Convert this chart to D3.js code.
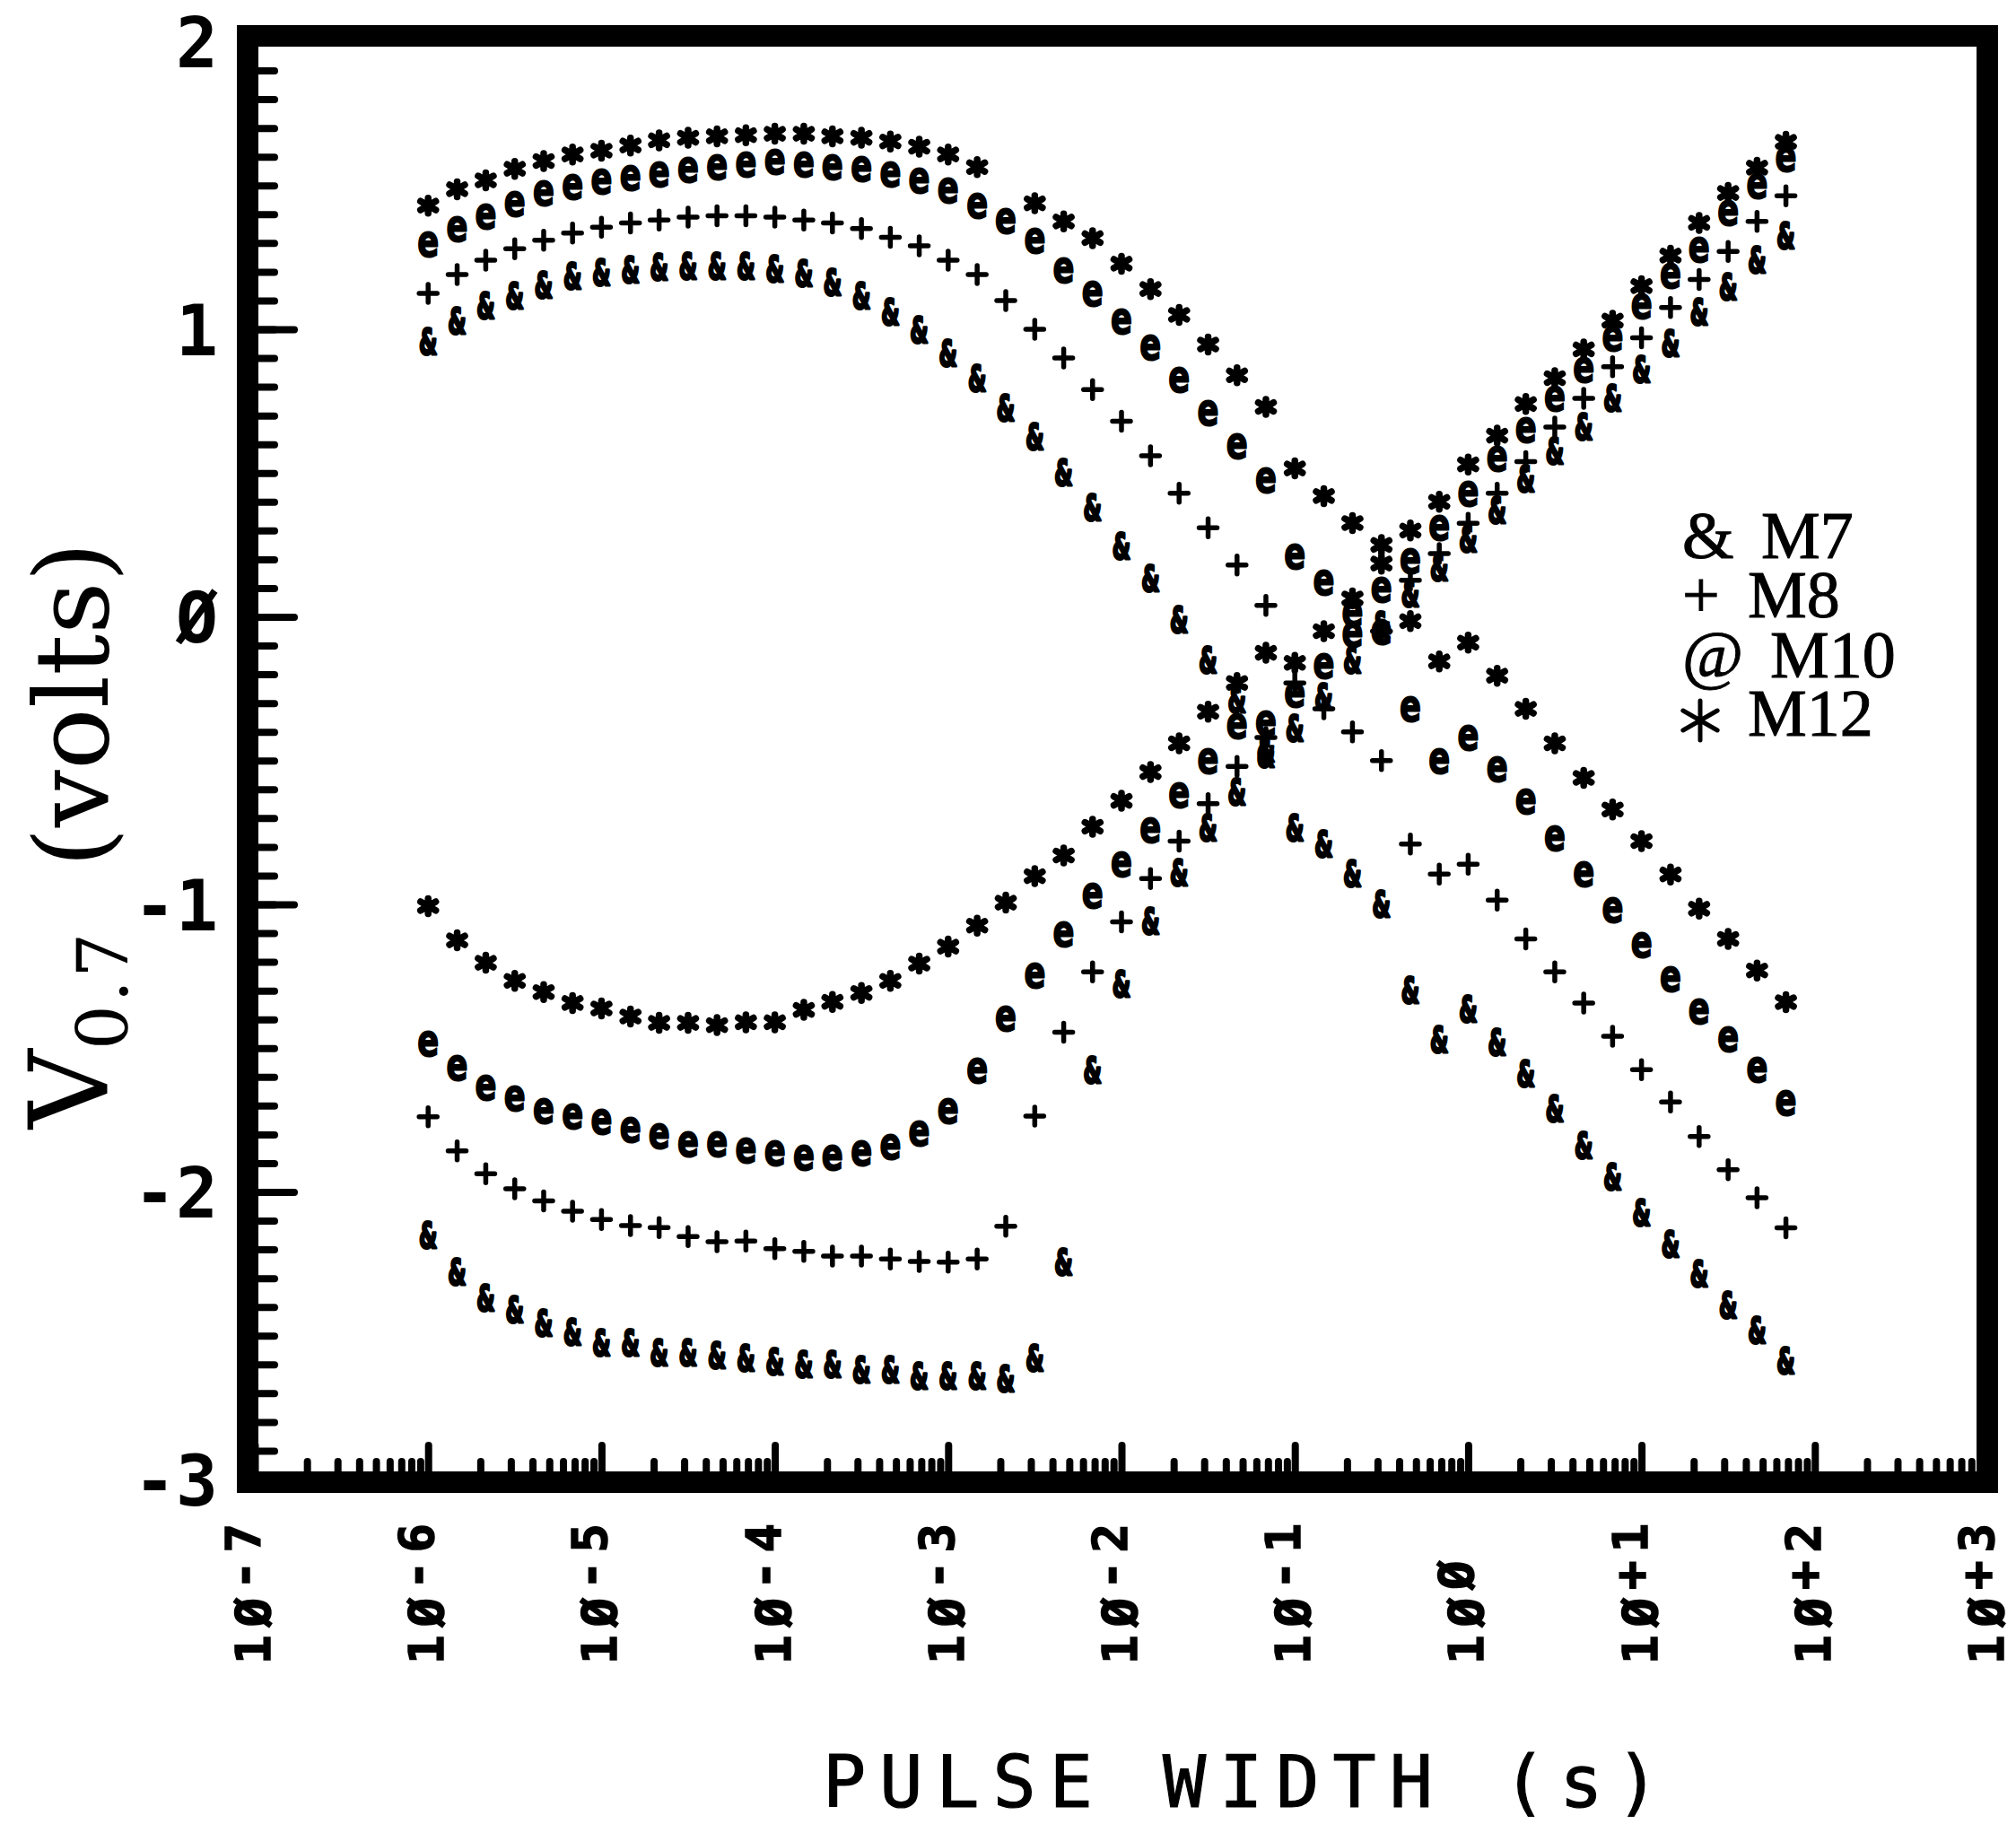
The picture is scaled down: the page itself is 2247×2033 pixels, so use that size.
<!DOCTYPE html>
<html>
<head>
<meta charset="utf-8">
<script src="https://cdn.jsdelivr.net/npm/d3@7"></script>
<style>
  html, body { margin: 0; padding: 0; background: #fff; }
  svg { display: block; }
</style>
</head>
<body>
<svg id="chart" width="2247" height="2033"></svg>
<script>
// Pulse widths (s): six steps per decade, from 1 µs to 68 s
const pulseWidths = [
  1e-6, 1.47e-6, 2.15e-6, 3.16e-6, 4.64e-6, 6.81e-6,
  1e-5, 1.47e-5, 2.15e-5, 3.16e-5, 4.64e-5, 6.81e-5,
  1e-4, 1.47e-4, 2.15e-4, 3.16e-4, 4.64e-4, 6.81e-4,
  1e-3, 1.47e-3, 2.15e-3, 3.16e-3, 4.64e-3, 6.81e-3,
  1e-2, 1.47e-2, 2.15e-2, 3.16e-2, 4.64e-2, 6.81e-2,
  0.1, 0.147, 0.215, 0.316, 0.464, 0.681,
  1, 1.47, 2.15, 3.16, 4.64, 6.81,
  10, 14.7, 21.5, 31.6, 46.4, 68.1
];

// V0.7 (volts) per device. "Down" = branch starting positive, "Up" = branch starting negative.
const m7Down = [
  0.955, 1.027, 1.08, 1.117, 1.152, 1.183, 1.196, 1.206, 1.215, 1.219,
  1.219, 1.219, 1.21, 1.192, 1.161, 1.117, 1.059, 0.996, 0.916, 0.827,
  0.724, 0.625, 0.50, 0.38, 0.245, 0.133, -0.01, -0.15, -0.29, -0.46,
  -0.735, -0.79, -0.895, -1.0, -1.30, -1.47, -1.365, -1.48, -1.59, -1.71,
  -1.84, -1.95, -2.072, -2.182, -2.285, -2.395, -2.483, -2.587
];
const m7Up = [
  -2.150, -2.280, -2.369, -2.410, -2.457, -2.488, -2.525, -2.525, -2.561, -2.561,
  -2.57, -2.58, -2.59, -2.60, -2.60, -2.62, -2.62, -2.64, -2.64, -2.64,
  -2.65, -2.58, -2.244, -1.578, -1.277, -1.058, -0.892, -0.735, -0.61, -0.48,
  -0.39, -0.28, -0.15, -0.03, 0.08, 0.17, 0.27, 0.37, 0.48, 0.575,
  0.66, 0.76, 0.86, 0.95, 1.06, 1.147, 1.24, 1.325
];
const m8Down = [
  1.125, 1.19, 1.24, 1.28, 1.31, 1.335, 1.355, 1.37, 1.38, 1.39,
  1.395, 1.395, 1.39, 1.38, 1.37, 1.35, 1.32, 1.29, 1.24, 1.19,
  1.10, 1.00, 0.90, 0.79, 0.68, 0.56, 0.43, 0.31, 0.18, 0.04,
  -0.23, -0.32, -0.40, -0.50, -0.79, -0.895, -0.86, -0.985, -1.12, -1.235,
  -1.343, -1.459, -1.575, -1.687, -1.807, -1.923, -2.02, -2.125
];
const m8Up = [
  -1.739, -1.857, -1.937, -1.989, -2.031, -2.067, -2.096, -2.117, -2.124, -2.155,
  -2.173, -2.171, -2.197, -2.207, -2.223, -2.223, -2.233, -2.242, -2.244, -2.233,
  -2.119, -1.736, -1.445, -1.235, -1.061, -0.91, -0.78, -0.65, -0.52, -0.42,
  null, null, null, -0.05, 0.127, 0.22, 0.325, 0.43, 0.54, 0.66,
  0.76, 0.87, 0.97, 1.076, 1.173, 1.271, 1.375, 1.464
];
const m10Down = [
  1.295, 1.349, 1.394, 1.438, 1.474, 1.497, 1.515, 1.528, 1.541, 1.555,
  1.564, 1.573, 1.582, 1.573, 1.564, 1.559, 1.541, 1.519, 1.483, 1.43,
  1.376, 1.309, 1.206, 1.125, 1.027, 0.938, 0.826, 0.71, 0.595, 0.476,
  0.21, 0.12, 0.01, -0.05, -0.32, -0.50, -0.42, -0.53, -0.64, -0.77,
  -0.895, -1.02, -1.14, -1.26, -1.37, -1.467, -1.575, -1.69
];
const m10Up = [
  -1.485, -1.568, -1.637, -1.675, -1.717, -1.736, -1.755, -1.783, -1.805, -1.833,
  -1.833, -1.854, -1.864, -1.88, -1.88, -1.864, -1.842, -1.797, -1.719, -1.578,
  -1.396, -1.246, -1.103, -0.97, -0.86, -0.74, -0.62, -0.50, -0.38, -0.37,
  -0.27, -0.17, -0.06, 0.095, 0.195, 0.31, 0.43, 0.55, 0.65, 0.76,
  0.86, 0.97, 1.08, 1.187, 1.278, 1.406, 1.50, 1.593
];
const m12Down = [
  1.43, 1.487, 1.518, 1.558, 1.585, 1.608, 1.621, 1.639, 1.657, 1.666,
  1.671, 1.675, 1.68, 1.68, 1.671, 1.666, 1.653, 1.635, 1.608, 1.564,
  null, 1.438, 1.375, 1.317, 1.228, 1.14, 1.05, 0.947, 0.84, 0.73,
  0.516, 0.42, 0.326, 0.185, -0.015, -0.155, -0.09, -0.205, -0.32, -0.44,
  -0.56, -0.67, -0.78, -0.896, -1.015, -1.12, -1.23, -1.34
];
const m12Up = [
  -1.006, -1.125, -1.203, -1.266, -1.305, -1.343, -1.362, -1.39, -1.412, -1.412,
  -1.42, -1.41, -1.41, -1.367, -1.339, -1.308, -1.266, -1.206, -1.147, -1.074,
  -0.994, -0.902, -0.83, -0.73, -0.64, -0.54, -0.44, -0.33, -0.23, -0.125,
  -0.16, -0.05, 0.064, 0.25, 0.30, 0.40, 0.53, 0.63, 0.74, 0.83,
  0.93, 1.03, 1.15, 1.256, 1.37, 1.474, 1.562, 1.652
];

const deviceNames = ["M7", "M8", "M10", "M12"];
const legendSymbols = ["&", "+", "@", "*"];

// Axis ticks and labels
const yTickValues = [-3, -2, -1, 0, 1, 2];
const yTickLabels = ["-3", "-2", "-1", "\u00D8", "1", "2"];
const xDecades = [1e-7, 1e-6, 1e-5, 1e-4, 1e-3, 1e-2, 1e-1, 1, 1e1, 1e2, 1e3];
const xExponents = ["-7", "-6", "-5", "-4", "-3", "-2", "-1", "\u00D8", "+1", "+2", "+3"];

// ---------------------------------------------------------------------------
const svg = d3.select("#chart");
const ink = "#000";
const plotterFont = "'DejaVu Sans Mono', monospace";
const legendFont = "'Liberation Serif', 'DejaVu Serif', serif";
const titleFont = "'DejaVu Serif', serif";

const x = d3.scaleLog().domain([1e-7, 1e3]).range([284, 2216]);
const y = d3.scaleLinear().domain([-3, 2]).range([1649, 46.5]);

const frame = { left: 276, right: 2215, top: 40, bottom: 1652, stroke: 24 };

function styleTicks(g) {
  g.select(".domain").remove();
  g.selectAll(".tick line")
    .attr("stroke", ink)
    .attr("stroke-width", 8)
    .attr("stroke-linecap", "round");
}

// Inward ticks on the left edge: every 0.1 V, longer at whole volts
const yMinor = d3.range(-30, 21).map(k => k / 10);
svg.append("g")
  .attr("transform", `translate(${frame.left},0)`)
  .call(d3.axisRight(y).tickValues(yMinor).tickSize(30).tickFormat(""))
  .call(styleTicks);
svg.append("g")
  .attr("transform", `translate(${frame.left},0)`)
  .call(d3.axisRight(y).tickValues(yTickValues).tickSize(52).tickFormat(""))
  .call(styleTicks);

// Inward ticks on the bottom edge: decades plus 2..9 minor marks
const xMinor = [];
xDecades.slice(0, -1).forEach(d => { for (let m = 2; m <= 9; m++) xMinor.push(d * m); });
svg.append("g")
  .attr("transform", `translate(0,${frame.bottom})`)
  .call(d3.axisTop(x).tickValues(xMinor).tickSize(23).tickFormat(""))
  .call(styleTicks);
svg.append("g")
  .attr("transform", `translate(0,${frame.bottom})`)
  .call(d3.axisTop(x).tickValues(xDecades).tickSize(41).tickFormat(""))
  .call(styleTicks);

// Heavy plot frame
svg.append("rect")
  .attr("x", frame.left).attr("y", frame.top)
  .attr("width", frame.right - frame.left)
  .attr("height", frame.bottom - frame.top)
  .attr("fill", "none")
  .attr("stroke", ink)
  .attr("stroke-width", frame.stroke);

// Y tick labels, outside the frame
const yLabelAxis = svg.append("g")
  .attr("transform", `translate(${frame.left},0)`)
  .call(d3.axisLeft(y).tickValues(yTickValues).tickSize(0).tickPadding(33)
    .tickFormat((d, i) => yTickLabels[i]));
yLabelAxis.select(".domain").remove();
yLabelAxis.selectAll("text")
  .attr("fill", ink)
  .attr("font-family", plotterFont)
  .attr("font-weight", "bold")
  .attr("font-size", 78)
  .attr("dy", "0.36em");

// X tick labels: rotated, "10" followed by a raised exponent
const xLabels = svg.append("g")
  .selectAll("text")
  .data(xDecades)
  .join("text")
  .attr("transform", d => `translate(${x(d) + 17},1855) rotate(-90)`)
  .attr("fill", ink)
  .attr("stroke", ink)
  .attr("stroke-width", 1.5)
  .attr("font-family", plotterFont)
  .attr("font-weight", "bold")
  .attr("font-size", 54)
  .attr("letter-spacing", 9)
  .attr("text-anchor", "start");
xLabels.append("tspan").text("1\u00D8");
xLabels.append("tspan").attr("dy", -11).text((d, i) => xExponents[i]);

// Axis titles
svg.append("text")
  .attr("x", 917).attr("y", 2014)
  .attr("fill", ink)
  .attr("stroke", ink)
  .attr("stroke-width", 1.2)
  .attr("font-family", plotterFont)
  .attr("font-size", 80)
  .attr("letter-spacing", 15)
  .text("PULSE WIDTH (s)");

const yTitle = svg.append("text")
  .attr("transform", "translate(120,1258) rotate(-90)")
  .attr("fill", ink)
  .attr("font-family", titleFont)
  .attr("font-size", 114);
yTitle.append("tspan").attr("font-size", 122).text("V");
yTitle.append("tspan").attr("font-size", 78).attr("letter-spacing", 3).attr("dy", 22).text("0.7");
yTitle.append("tspan").attr("dy", -22).attr("dx", 70).text("(volts)");

// Point marks, one glyph style per device
const drawMark = {
  amp: sel => sel.append("text")
    .text("&")
    .attr("transform", "scale(0.6,1)")
    .attr("y", 14)
    .attr("text-anchor", "middle")
    .attr("font-family", "'DejaVu Sans', sans-serif")
    .attr("font-weight", "bold")
    .attr("font-size", 39)
    .attr("fill", ink)
    .attr("stroke", ink)
    .attr("stroke-width", 3.2)
    .attr("stroke-linejoin", "round"),
  plus: sel => sel.append("path")
    .attr("d", "M-10,0H10M0,-10V10")
    .attr("stroke", ink)
    .attr("stroke-width", 5.5)
    .attr("stroke-linecap", "round"),
  at: sel => sel.append("text")
    .text("e")
    .attr("transform", "scale(0.72,1)")
    .attr("y", 14)
    .attr("text-anchor", "middle")
    .attr("font-family", "'DejaVu Sans', sans-serif")
    .attr("font-weight", "bold")
    .attr("font-size", 49)
    .attr("fill", ink)
    .attr("stroke", ink)
    .attr("stroke-width", 2)
    .attr("stroke-linejoin", "round"),
  star: sel => sel.append("path")
    .attr("d", "M0,-8.5V8.5M-8.5,-4.9L8.5,4.9M-8.5,4.9L8.5,-4.9")
    .attr("stroke", ink)
    .attr("stroke-width", 7.5)
    .attr("stroke-linecap", "round")
};

const seriesList = [
  { name: deviceNames[0], mark: "amp",  branches: [m7Down, m7Up] },
  { name: deviceNames[1], mark: "plus", branches: [m8Down, m8Up] },
  { name: deviceNames[2], mark: "at",   branches: [m10Down, m10Up] },
  { name: deviceNames[3], mark: "star", branches: [m12Down, m12Up] }
];

seriesList.forEach(s => {
  const pts = s.branches.flatMap(vals =>
    vals.map((v, i) => ({ t: pulseWidths[i], v })).filter(d => d.v !== null));
  const marks = svg.append("g").attr("class", "series-" + s.name)
    .selectAll("g")
    .data(pts)
    .join("g")
    .attr("transform", d => `translate(${x(d.t)},${y(d.v)})`);
  drawMark[s.mark](marks);
});

// Legend (serif, right of the crossing)
const legendRows = [
  { baseline: 622, nameX: 1963 },
  { baseline: 688, nameX: 1948 },
  { baseline: 755, nameX: 1973 },
  { baseline: 820, nameX: 1948 }
];
const legend = svg.append("g")
  .attr("font-family", legendFont)
  .attr("font-size", 74)
  .attr("fill", ink)
  .attr("stroke", ink)
  .attr("stroke-width", 1);
legendRows.forEach((row, i) => {
  if (legendSymbols[i] === "*") {
    const cx = 1895, cy = row.baseline - 17, r = 22;
    legend.append("path")
      .attr("d", `M${cx},${cy - r}V${cy + r}` +
                 `M${cx - r * 0.87},${cy - r * 0.5}L${cx + r * 0.87},${cy + r * 0.5}` +
                 `M${cx - r * 0.87},${cy + r * 0.5}L${cx + r * 0.87},${cy - r * 0.5}`)
      .attr("fill", "none")
      .attr("stroke-width", 5)
      .attr("stroke-linecap", "round");
  } else {
    legend.append("text")
      .attr("x", 1875).attr("y", row.baseline)
      .text(legendSymbols[i]);
  }
  legend.append("text")
    .attr("x", row.nameX).attr("y", row.baseline)
    .text(deviceNames[i]);
});
</script>
</body>
</html>
